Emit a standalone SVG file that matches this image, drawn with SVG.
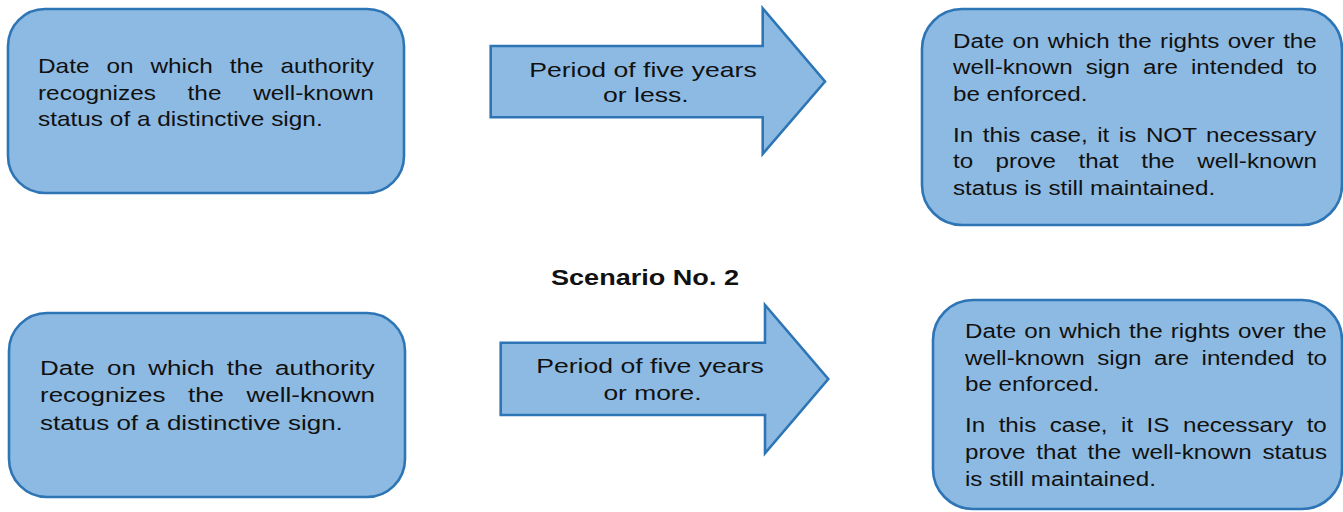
<svg xmlns="http://www.w3.org/2000/svg" width="1343" height="512" viewBox="0 0 1343 512">
<style>
.box{fill:#8DBAE2;stroke:#2E75B6;stroke-width:2.6}
.arr{fill:#8DBAE2;stroke:#2E75B6;stroke-width:2.6;stroke-linejoin:miter}
.t{font-family:"Liberation Sans",Arial,sans-serif;font-size:20px;fill:#111}
.t21{font-family:"Liberation Sans",Arial,sans-serif;font-size:21px;fill:#111}
.c{text-anchor:middle}
.title{font-family:"Liberation Sans",Arial,sans-serif;font-size:22px;font-weight:bold;fill:#111;text-anchor:middle}
</style>
<rect width="1343" height="512" fill="#ffffff"/>
<g id="node-start-1">
<rect class="box" x="8" y="9" width="396" height="184" rx="37" ry="37"/>
<text class="t" transform="matrix(1.22 0 0 1 38 72.7)" style="word-spacing:8.3px">Date on which the authority</text>
<text class="t" transform="matrix(1.22 0 0 1 38 99.5)" style="word-spacing:20.4px">recognizes the well-known</text>
<text class="t" transform="matrix(1.22 0 0 1 38 126.2)">status of a distinctive sign.</text>
</g>
<g id="node-end-1">
<rect class="box" x="922" y="9" width="420" height="216" rx="40" ry="40"/>
<text class="t" transform="matrix(1.21 0 0 1 953 47.7)" style="word-spacing:1.4px">Date on which the rights over the</text>
<text class="t" transform="matrix(1.21 0 0 1 953 74.4)" style="word-spacing:5.2px">well-known sign are intended to</text>
<text class="t" transform="matrix(1.21 0 0 1 953 101.1)">be enforced.</text>
<text class="t" transform="matrix(1.21 0 0 1 953 141.6)" style="word-spacing:2.33px">In this case, it is NOT necessary</text>
<text class="t" transform="matrix(1.21 0 0 1 953 168.3)" style="word-spacing:12.95px">to prove that the well-known</text>
<text class="t" transform="matrix(1.21 0 0 1 953 195)">status is still maintained.</text>
</g>
<g id="title">
<text class="title" transform="matrix(1.23 0 0 1 645 285.3)">Scenario No. 2</text>
</g>
<g id="node-start-2">
<rect class="box" x="9" y="313" width="396" height="184" rx="38" ry="38"/>
<text class="t21" transform="matrix(1.236 0 0 1 40 374.5)" style="word-spacing:4.1px">Date on which the authority</text>
<text class="t21" transform="matrix(1.236 0 0 1 40 402)" style="word-spacing:12.4px">recognizes the well-known</text>
<text class="t21" transform="matrix(1.236 0 0 1 40 429.5)">status of a distinctive sign.</text>
</g>
<g id="node-end-2">
<rect class="box" x="933" y="300" width="409" height="209" rx="40" ry="40"/>
<text class="t" transform="matrix(1.21 0 0 1 965 338)" style="word-spacing:1.13px">Date on which the rights over the</text>
<text class="t" transform="matrix(1.21 0 0 1 965 364.7)" style="word-spacing:4.8px">well-known sign are intended to</text>
<text class="t" transform="matrix(1.21 0 0 1 965 391.4)">be enforced.</text>
<text class="t" transform="matrix(1.21 0 0 1 965 432.4)" style="word-spacing:5.58px">In this case, it IS necessary to</text>
<text class="t" transform="matrix(1.21 0 0 1 965 459.1)" style="word-spacing:3.4px">prove that the well-known status</text>
<text class="t" transform="matrix(1.21 0 0 1 965 485.8)">is still maintained.</text>
</g>
<g id="connectors">
<g id="arrow-1">
<path class="arr" d="M490.7 46 L762.7 46 L762.7 8.3 L825 81.5 L762.7 154 L762.7 117.3 L490.7 117.3 Z"/>
<text class="t c" transform="matrix(1.33 0 0 1 643 76.7)">Period of five years</text>
<text class="t c" transform="matrix(1.33 0 0 1 645.8 101.5)">or less.</text>
</g>
<g id="arrow-2">
<path class="arr" d="M500.7 342.7 L765 342.7 L765 305 L828.3 379 L765 453.3 L765 415 L500.7 415 Z"/>
<text class="t c" transform="matrix(1.33 0 0 1 650 373.3)">Period of five years</text>
<text class="t c" transform="matrix(1.32 0 0 1 652.5 400)">or more.</text>
</g>
</g>
</svg>
